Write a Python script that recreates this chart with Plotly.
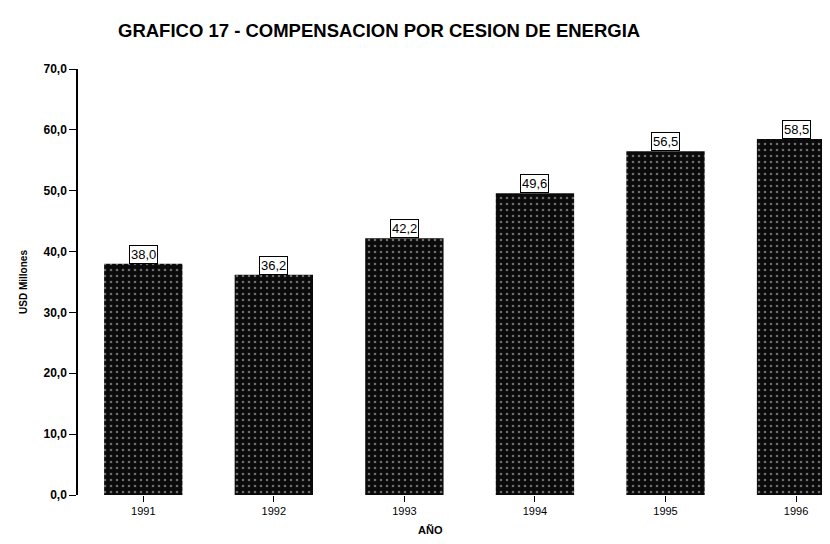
import plotly.graph_objects as go

YEARS = ["1991", "1992", "1993", "1994", "1995", "1996"]
VALUES = [38.0, 36.2, 42.2, 49.6, 56.5, 58.5]
Y_TICKS = [0, 10, 20, 30, 40, 50, 60, 70]

TITLE = "GRAFICO 17 - COMPENSACION POR CESION DE ENERGIA"
FONT = "Liberation Sans, Arial, sans-serif"

# the page body has an 8px default margin, so the figure is 8px smaller than the window
W, H = 822, 536
PLOT_L, PLOT_T, PLOT_B = 70, 61, 487

fig = go.Figure()
fig.add_trace(
    go.Bar(
        x=YEARS,
        y=VALUES,
        width=0.6,
        marker={
            "color": "#0a0a0a",
            "line": {"width": 0},
            "pattern": {
                "shape": ".",
                "fgcolor": "#d0d0d0",
                "bgcolor": "#0a0a0a",
                "size": 6,
                "solidity": 0.15,
            },
        },
        showlegend=False,
    )
)

# value boxes sitting on top of each bar (index positions on the category axis)
for i, v in enumerate(VALUES):
    fig.add_annotation(
        x=i,
        y=v,
        text=f"{v:.1f}".replace(".", ","),
        showarrow=False,
        yanchor="bottom",
        font={"family": FONT, "size": 13, "color": "#000"},
        bgcolor="#ffffff",
        bordercolor="#000000",
        borderwidth=1,
        borderpad=1,
    )

plot_w = W - PLOT_L
plot_h = PLOT_B - PLOT_T
fig.add_annotation(
    x=(422 - PLOT_L) / plot_w,
    y=-(530 - PLOT_B) / plot_h,
    xref="paper",
    yref="paper",
    text="<b>AÑO</b>",
    showarrow=False,
    font={"family": FONT, "size": 11, "color": "#000"},
)

fig.update_layout(
    width=W,
    height=H,
    paper_bgcolor="white",
    plot_bgcolor="white",
    separators=",.",
    margin={"l": PLOT_L, "r": 0, "t": PLOT_T, "b": H - PLOT_B, "autoexpand": False},
    title={
        "text": f"<b>{TITLE}</b>",
        "x": 110 / W,
        "xanchor": "left",
        "y": 1 - 23 / H,
        "yanchor": "middle",
        "font": {"family": FONT, "size": 18.5, "color": "#000"},
    },
)

fig.update_xaxes(
    type="category",
    range=[-0.5, 5.26],
    automargin=False,
    showline=False,
    showgrid=False,
    ticks="outside",
    ticklen=6,
    tickcolor="#000",
    tickfont={"family": FONT, "size": 11, "color": "#000"},
)
fig.update_yaxes(
    range=[0, 70],
    tickvals=Y_TICKS,
    tickformat=".1f",
    automargin=False,
    showline=True,
    linecolor="#000",
    linewidth=1.5,
    showgrid=False,
    zeroline=False,
    ticks="outside",
    ticklen=7,
    tickcolor="#000",
    tickfont={"family": FONT, "size": 12, "color": "#000", "weight": "bold"},
    title={"text": "<b>USD Millones</b>", "font": {"family": FONT, "size": 10, "color": "#000"}, "standoff": 14},
)

fig.write_html("out.html")
